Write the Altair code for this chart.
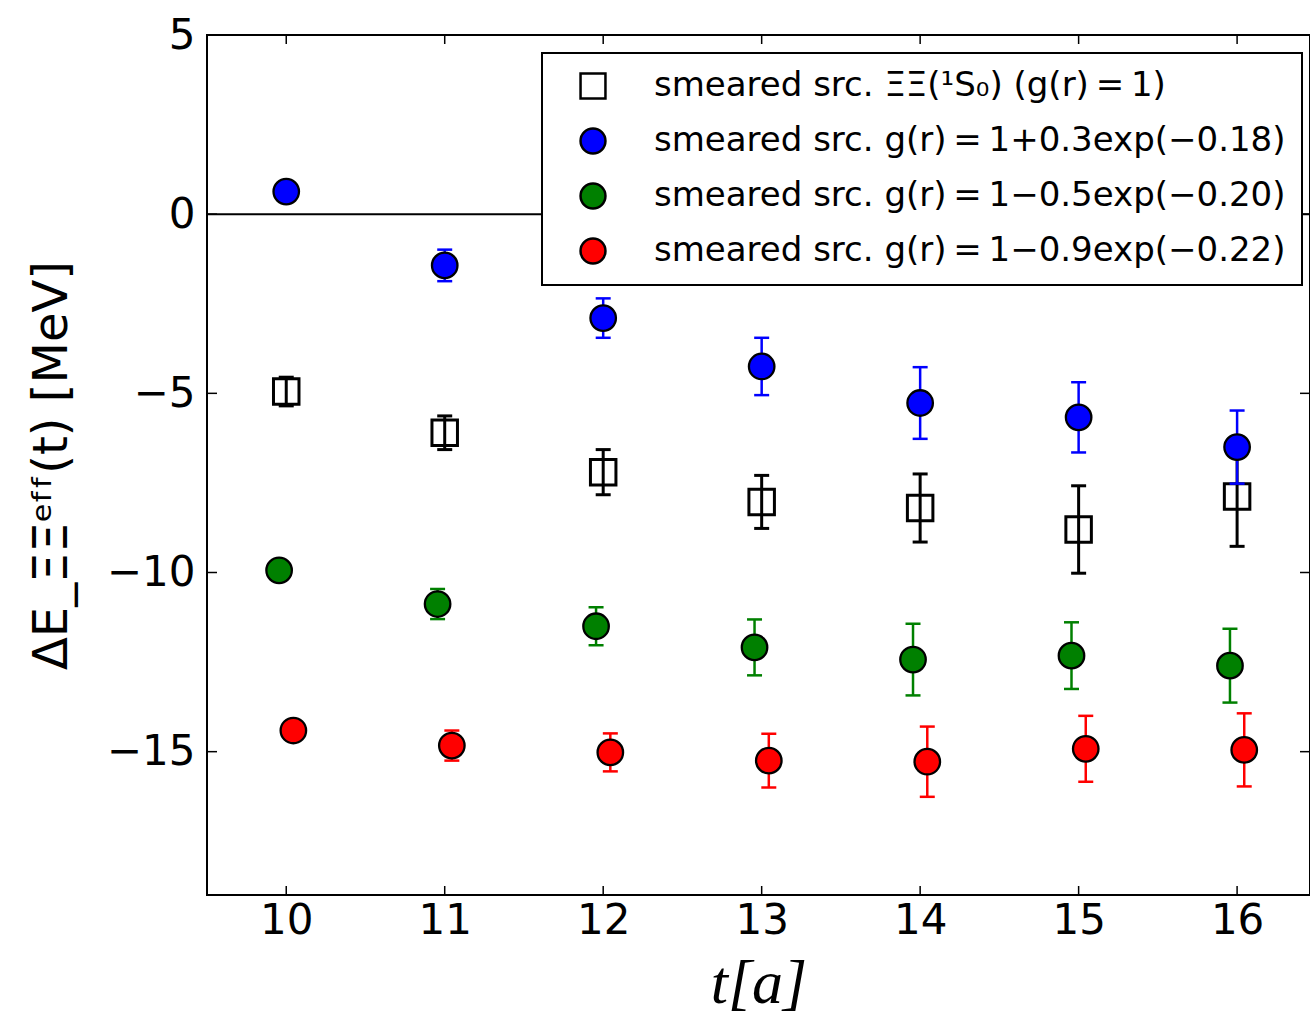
import altair as alt
import pandas as pd

# ---- data ----
t_vals = [10, 11, 12, 13, 14, 15, 16]

series_names = [
    "smeared src. ΞΞ(¹S₀) (g(r)\u2009=\u20091)",
    "smeared src. g(r)\u2009=\u20091+0.3exp(−0.18)",
    "smeared src. g(r)\u2009=\u20091−0.5exp(−0.20)",
    "smeared src. g(r)\u2009=\u20091−0.9exp(−0.22)",
]
series_colors = ["black", "#0000ff", "#008000", "#ff0000"]
series_fill = ["transparent", "#0000ff", "#008000", "#ff0000"]
series_shape = ["square", "circle", "circle", "circle"]
series_shift = [0.0, 0.0, -0.045, 0.045]

black_val = [-4.95, -6.10, -7.20, -8.03, -8.20, -8.80, -7.88]
black_err = [0.40, 0.47, 0.63, 0.74, 0.95, 1.22, 1.39]
blue_val = [0.63, -1.43, -2.90, -4.25, -5.27, -5.67, -6.50]
blue_err = [0.05, 0.44, 0.55, 0.80, 1.00, 0.98, 1.02]
green_val = [-9.94, -10.88, -11.50, -12.09, -12.43, -12.32, -12.60]
green_err = [0.05, 0.42, 0.53, 0.78, 1.00, 0.93, 1.03]
red_val = [-14.41, -14.83, -15.02, -15.25, -15.28, -14.92, -14.95]
red_err = [0.05, 0.42, 0.53, 0.75, 0.98, 0.92, 1.02]

y_ticks = [-15, -10, -5, 0, 5]

values = [black_val, blue_val, green_val, red_val]
errors = [black_err, blue_err, green_err, red_err]

rows = []
for name, shift, vals, errs in zip(series_names, series_shift, values, errors):
    for t, v, e in zip(t_vals, vals, errs):
        rows.append({"series": name, "x": t + shift, "val": v, "lo": v - e, "hi": v + e})
df = pd.DataFrame(rows)

W, H = 1103, 860

xscale = alt.Scale(domain=[9.5, 16.46], nice=False, zero=False)
yscale = alt.Scale(domain=[-19, 5], nice=False, zero=False)

x_axis = alt.Axis(values=t_vals, title="t[a]", labelFont="DejaVu Sans", labelFontSize=42,
                  labelPadding=5, ticks=False, domain=False, grid=False,
                  titleFont="Liberation Serif", titleFontStyle="italic", titleFontWeight="normal",
                  titleFontSize=62, titlePadding=12, labelColor="black", titleColor="black",
                  format="d")
y_axis = alt.Axis(values=y_ticks, title="ΔE_ΞΞᵉᶠᶠ(t) [MeV]", labelFont="DejaVu Sans",
                  labelFontSize=42, labelPadding=12, ticks=False, domain=False, grid=False,
                  titleFont="DejaVu Sans", titleFontWeight="normal", titleFontSize=48,
                  titlePadding=30, labelColor="black", titleColor="black")


def X(field):
    return alt.X(f"{field}:Q", scale=xscale, axis=x_axis)


def Y(field):
    return alt.Y(f"{field}:Q", scale=yscale, axis=y_axis)


legend = alt.Legend(title=None, orient="none", legendX=335, legendY=18,
                    strokeColor="black", fillColor="white", padding=16, rowPadding=19,
                    labelFont="DejaVu Sans", labelFontSize=34, labelLimit=0,
                    symbolSize=620, symbolStrokeColor="black", symbolStrokeWidth=2.5,
                    symbolOffset=18, labelOffset=44, cornerRadius=0, labelColor="black")

shape_enc = alt.Shape("series:N", scale=alt.Scale(domain=series_names, range=series_shape),
                      legend=legend)
fill_enc = alt.Fill("series:N", scale=alt.Scale(domain=series_names, range=series_fill),
                    legend=legend)
stroke_enc = alt.Stroke("series:N", scale=alt.Scale(domain=series_names,
                                                    range=["black"] * len(series_names)),
                        legend=legend)

base = alt.Chart(df)

# zero line
zero = alt.Chart(pd.DataFrame({"z": [0]})).mark_rule(color="black", strokeWidth=2).encode(y=Y("z"))

# inward ticks on all four sides
ydf = pd.DataFrame({"v": y_ticks})
xdf = pd.DataFrame({"v": t_vals})
tick_left = alt.Chart(ydf).mark_rule(color="black", strokeWidth=1.5).encode(
    y=Y("v"), x=alt.value(0), x2=alt.value(10))
tick_right = alt.Chart(ydf).mark_rule(color="black", strokeWidth=1.5).encode(
    y=Y("v"), x=alt.value(W - 10), x2=alt.value(W))
tick_bottom = alt.Chart(xdf).mark_rule(color="black", strokeWidth=1.5).encode(
    x=X("v"), y=alt.value(H - 9), y2=alt.value(H))
tick_top = alt.Chart(xdf).mark_rule(color="black", strokeWidth=1.5).encode(
    x=X("v"), y=alt.value(0), y2=alt.value(9))

layers = [zero, tick_left, tick_right, tick_bottom, tick_top]

for name, col in zip(series_names, series_colors):
    sub = base.transform_filter(alt.datum.series == name)
    sw = 3 if col == "black" else 2.5
    bars = sub.mark_rule(color=col, strokeWidth=sw).encode(x=X("x"), y=Y("lo"), y2="hi")
    cap_lo = sub.mark_tick(color=col, orient="horizontal", size=15, thickness=sw,
                           opacity=1).encode(x=X("x"), y=Y("lo"))
    cap_hi = sub.mark_tick(color=col, orient="horizontal", size=15, thickness=sw,
                           opacity=1).encode(x=X("x"), y=Y("hi"))
    pts = sub.mark_point(strokeWidth=3 if col == "black" else 2.3,
                         opacity=1, fillOpacity=1, size=650).encode(
        x=X("x"), y=Y("val"), shape=shape_enc, fill=fill_enc, stroke=stroke_enc)
    layers += [bars, cap_lo, cap_hi, pts]

chart = alt.layer(*layers).properties(
    width=W, height=H,
    background="white",
    autosize=alt.AutoSizeParams(type="none"),
    padding={"left": 207, "top": 35, "right": 0, "bottom": 126},
).configure_view(stroke="black", strokeWidth=2).configure_legend(strokeWidth=2)

chart.save("out.html", embed_options={"renderer": "svg", "actions": False})
